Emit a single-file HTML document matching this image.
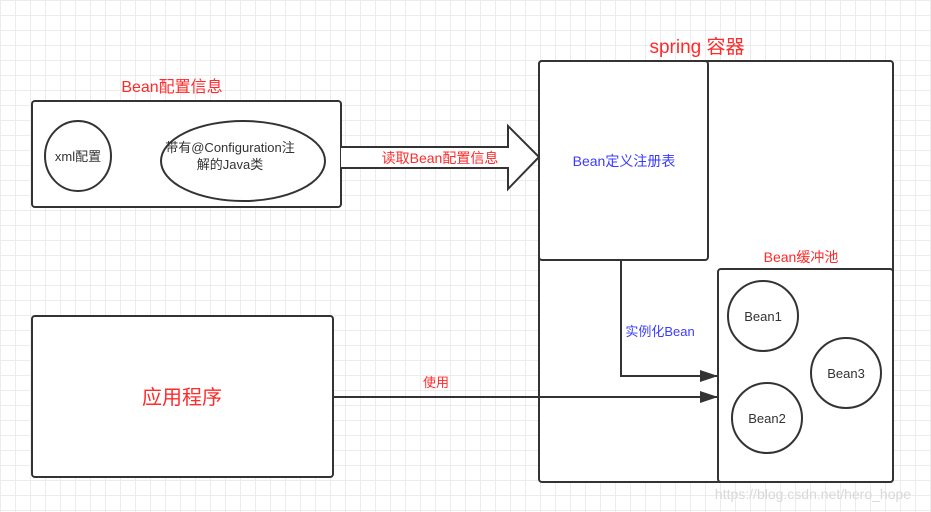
<!DOCTYPE html>
<html><head><meta charset="utf-8"><style>
html,body{margin:0;padding:0;}
body{width:931px;height:512px;overflow:hidden;background:#fff;
background-image:linear-gradient(#ececec 1px,transparent 1px),linear-gradient(90deg,#ececec 1px,transparent 1px);
background-size:15px 15px;}
svg{position:absolute;left:0;top:0;}
text{font-family:"Liberation Sans","Noto Sans CJK SC",sans-serif;}
</style></head><body>
<svg width="931" height="512" viewBox="0 0 931 512">
<defs><marker id="a" markerWidth="10" markerHeight="10" refX="9" refY="5" orient="auto" markerUnits="userSpaceOnUse"><path d="M0,0 L10,5 L0,10 Z" fill="#333"/></marker>
<marker id="b" markerWidth="18" markerHeight="12" refX="17" refY="6" orient="auto" markerUnits="userSpaceOnUse"><path d="M0,0 L18,6 L0,12 Z" fill="#333"/></marker></defs>
<g stroke="#333" stroke-width="2" fill="#fff">
<rect x="32" y="101" width="309" height="106" rx="3"/>
<ellipse cx="78" cy="156" rx="33" ry="35"/>
<ellipse cx="243" cy="161" rx="82" ry="40"/>
<path d="M341,147 L508,147 L508,126 L539,157 L508,189 L508,168 L341,168"/>
<rect x="539" y="61" width="354" height="421" rx="3"/>
<rect x="539" y="61" width="169" height="199" rx="3"/>
<rect x="718" y="269" width="175" height="213" rx="3"/>
<circle cx="763" cy="316" r="35"/>
<circle cx="846" cy="373" r="35"/>
<circle cx="767" cy="418" r="35"/>
<rect x="32" y="316" width="301" height="161" rx="3"/>
<path d="M621,260 L621,376 L717,376" fill="none" marker-end="url(#b)"/>
<path d="M333,397 L717,397" fill="none" marker-end="url(#b)"/>
</g>
<g font-size="13" fill="#333" text-anchor="middle">
<text x="78" y="161">xml配置</text>
<text x="230" y="152">带有@Configuration注</text>
<text x="230" y="169">解的Java类</text>
<text x="763" y="321">Bean1</text>
<text x="846" y="378">Bean3</text>
<text x="767" y="423">Bean2</text>
</g>
<g fill="#ff2a2a" text-anchor="middle">
<text x="172" y="92" font-size="16">Bean配置信息</text>
<text x="440" y="163" font-size="14">读取Bean配置信息</text>
<text x="697" y="53" font-size="19">spring 容器</text>
<text x="801" y="262" font-size="14">Bean缓冲池</text>
<text x="182" y="404" font-size="20">应用程序</text>
<text x="436" y="387" font-size="13">使用</text>
</g>
<g fill="#3b3bff" text-anchor="middle" font-size="14">
<text x="624" y="166">Bean定义注册表</text>
<text x="660" y="336" font-size="13">实例化Bean</text>
</g>
<text x="813" y="499" font-size="14" fill="#d8d8d8" text-anchor="middle">https://blog.csdn.net/hero_hope</text>
</svg>
</body></html>
